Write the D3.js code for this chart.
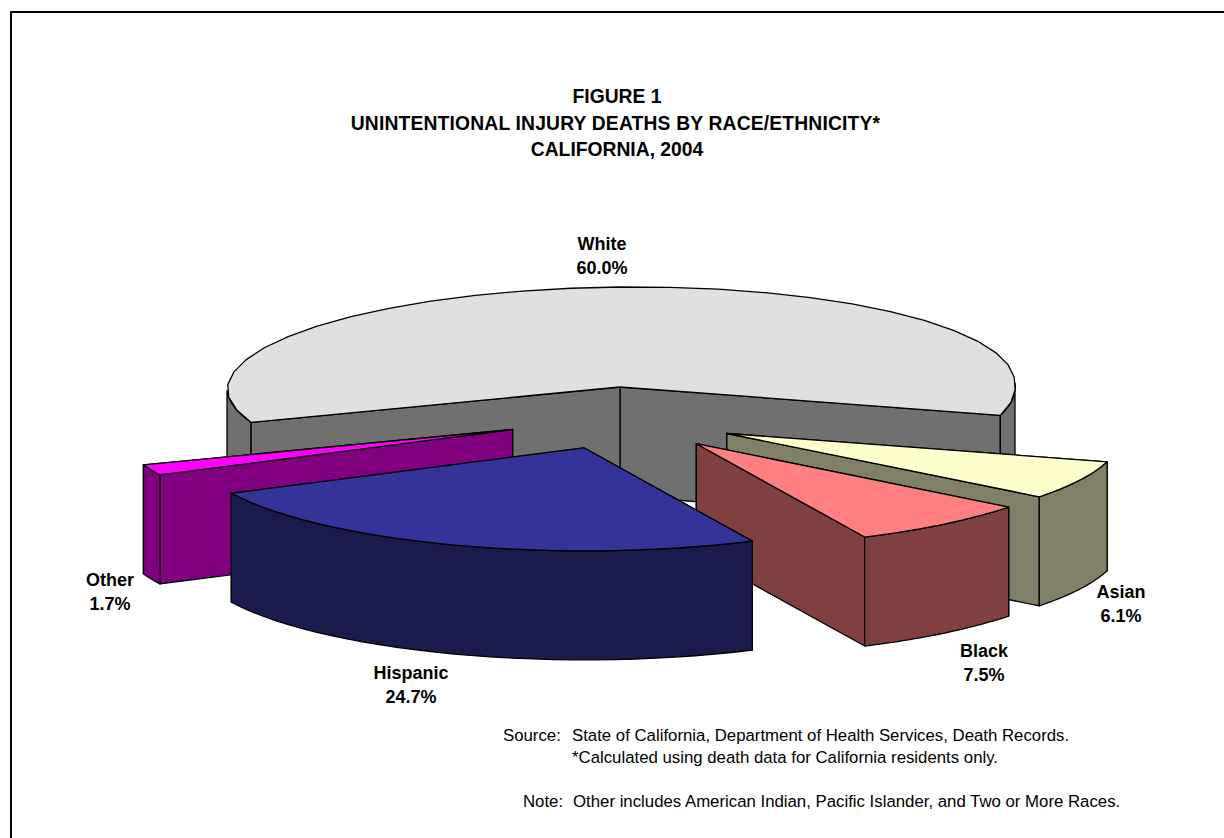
<!DOCTYPE html>
<html><head><meta charset="utf-8">
<script src="https://cdn.jsdelivr.net/npm/d3@7"></script>
<style>html,body{margin:0;padding:0;background:#fff}svg{display:block}text{font-family:"Liberation Sans",Arial,sans-serif;fill:#000}</style>
</head><body><svg id="c" width="1224" height="838"></svg>
<script>
const categories = ["White","Asian","Black","Hispanic","Other"];
const shares = [60.0,6.1,7.5,24.7,1.7];
const topColors = ["#e0e0e0","#ffffcc","#ff8080","#333399","#ff00ff"];
const wallColors = ["#707070","#808066","#804040","#1a1a4d","#800080"];
const paintOrder = ["White","Asian","Black","Other","Hispanic"];
const titleLines = ["FIGURE 1","UNINTENTIONAL INJURY DEATHS BY RACE/ETHNICITY*","CALIFORNIA, 2004"];
const labelAnchors = {White:[602,250],Asian:[1121,598],Black:[984,657],Hispanic:[411,679],Other:[110,586]};
const notes = [
  {t:"Source:",x:503,y:741},
  {t:"State of California, Department of Health Services, Death Records.",x:572,y:741},
  {t:"*Calculated using death data for California residents only.",x:572,y:763},
  {t:"Note:",x:523,y:807},
  {t:"Other includes American Indian, Pacific Islander, and Two or More Races.",x:573,y:807}
];

const rad = d => d*Math.PI/180;
const svg = d3.select("#c");
svg.append("rect").attr("x",11).attr("y",12).attr("width",1240).attr("height",860)
   .attr("fill","#fff").attr("stroke","#000").attr("stroke-width",2);

const cx=620, cy=418, depth=109;
// Oblique view of the pie plane: near side is slightly larger than far side.
const project = (a,r=1) => {
  const X=r*Math.sin(a), Y=r*Math.cos(a);
  const rx = X<0 ? 393 : 395;
  const ry = Y<0 ? 103 : 100;
  return [rx*X + 15*Math.max(0,-Y), -ry*Y - 3.7*X];
};
// Explosion offset of a slice, along its mid angle.
const explodeOffset = a => {
  const X=Math.sin(a), Y=Math.cos(a);
  return [118*X + 7.5*Math.max(0,-Y), Y<0 ? -32*Y : -31*Y];
};
const arcs = d3.pie().sort(null).value(d=>d)
  .startAngle(rad(252)).endAngle(rad(252+360))(shares)
  .map((d,i)=>({...d,name:categories[i],top:topColors[i],wall:wallColors[i]}));

const line = d3.line();
const drawSlice = s => {
  const o=explodeOffset((s.startAngle+s.endAngle)/2);
  const c=[cx+o[0],cy+o[1]];
  const P=a=>{const p=project(a);return [c[0]+p[0],c[1]+p[1]]};
  const down=p=>[p[0],p[1]+depth];
  const sample=(a0,a1)=>d3.range(0,31).map(k=>P(a0+(a1-a0)*k/30));
  const g=svg.append("g").attr("stroke","#000").attr("stroke-width",1.3).attr("stroke-linejoin","round");
  const face=(pts,fill)=>g.append("path").attr("d",line(pts)+"Z").attr("fill",fill);
  // cut walls, far one first
  [s.startAngle,s.endAngle].sort((a,b)=>Math.cos(b)-Math.cos(a)).forEach(a=>{
    const e=P(a);
    face([c,e,down(e),down(c)],s.wall);
  });
  // outer rim: only the part that faces the viewer
  for(let k=0;k<3;k++){
    const lo=Math.max(s.startAngle,rad(90+360*k)), hi=Math.min(s.endAngle,rad(270+360*k));
    if(lo<hi){const pts=sample(lo,hi);face(pts.concat(pts.slice().reverse().map(down)),s.wall);}
  }
  face([c].concat(sample(s.startAngle,s.endAngle)),s.top);
};
paintOrder.forEach(n=>drawSlice(arcs.find(a=>a.name===n)));

svg.append("g").selectAll("text").data(titleLines).join("text")
  .attr("x",(d,i)=>i===1?615.5:617).attr("y",(d,i)=>103+i*26.5).attr("text-anchor","middle")
  .attr("font-size",19.3).attr("font-weight","bold")
  .attr("letter-spacing",(d,i)=>i===1?0.17:0).text(d=>d);

arcs.forEach(a=>{
  const [x,y]=labelAnchors[a.name];
  const t=svg.append("text").attr("text-anchor","middle").attr("font-size",18).attr("font-weight","bold");
  t.append("tspan").attr("x",x).attr("y",y).text(a.name);
  t.append("tspan").attr("x",x).attr("y",y+24).text(a.data.toFixed(1)+"%");
});
svg.append("g").selectAll("text").data(notes).join("text")
  .attr("x",d=>d.x).attr("y",d=>d.y).attr("font-size",16.8).text(d=>d.t);
</script></body></html>
